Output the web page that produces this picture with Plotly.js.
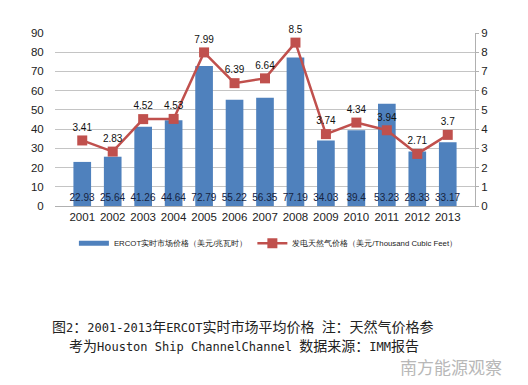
<!DOCTYPE html>
<html>
<head>
<meta charset="utf-8">
<script src="https://cdn.plot.ly/plotly-3.0.1.min.js"></script>
<style>html,body{margin:0;padding:0;background:#fff;}#chart{width:528px;height:385px;}</style>
</head>
<body>
<div id="chart"></div>
<script>
var years = ['2001','2002','2003','2004','2005','2006','2007','2008','2009','2010','2011','2012','2013'];
var ercotPrice = [22.93, 25.64, 41.26, 44.64, 72.79, 55.22, 56.35, 77.19, 34.03, 39.4, 53.23, 28.33, 33.17];
var gasPrice = [3.41, 2.83, 4.52, 4.53, 7.99, 6.39, 6.64, 8.5, 3.74, 4.34, 3.94, 2.71, 3.7];
var barName = 'ERCOT实时市场价格（美元/兆瓦时）';
var lineName = '发电天然气价格（美元/Thousand Cubic Feet）';

var tickFont = {family: 'Liberation Sans, Arial, sans-serif', size: 11.5, color: '#222'};
var barLabelFont = {family: 'Liberation Sans, Arial, sans-serif', size: 10, color: '#16233f'};

var bars = {
  type: 'bar', x: years, y: ercotPrice, name: barName, showlegend: false,
  marker: {color: '#4F81BD'}, width: 0.58,
  text: ercotPrice.map(String), textposition: 'inside', insidetextanchor: 'start',
  constraintext: 'none', cliponaxis: false,
  textfont: barLabelFont, insidetextfont: barLabelFont,
  textangle: 0, hoverinfo: 'skip'
};
var barLegend = {
  type: 'scatter', mode: 'lines', x: [null], y: [null], name: barName,
  line: {color: '#4F81BD', width: 5}, hoverinfo: 'skip'
};
var line = {
  type: 'scatter', mode: 'lines+markers+text', x: years, y: gasPrice, yaxis: 'y2', name: lineName,
  line: {color: '#C0504D', width: 2.5},
  marker: {symbol: 'square', size: 10, color: '#C0504D'},
  text: gasPrice.map(String), textposition: 'top center', cliponaxis: false,
  textfont: {family: 'Liberation Sans, Arial, sans-serif', size: 10, color: '#111'},
  hoverinfo: 'skip'
};

function latin(s){ return '<span style="font-size:12px">' + s + '</span>'; }
var cap1 = '图' + latin('2') + '：' + latin('2001-2013') + '年' + latin('ERCOT') + '实时市场平均价格' + latin(' ') + '注：天然气价格参';
var cap2 = '考为' + latin('Houston Ship ChannelChannel ') + '数据来源：' + latin('IMM') + '报告';
var capFont = {family: 'DejaVu Sans Mono, Noto Sans CJK SC, monospace', size: 14, color: '#222'};

var layout = {
  width: 528, height: 385,
  margin: {l: 55, r: 53, t: 33, b: 179},
  paper_bgcolor: '#fff', plot_bgcolor: '#fff',
  showlegend: true,
  legend: {orientation: 'h', x: 0.045, y: -0.215, xanchor: 'left', yanchor: 'middle',
           font: {family: 'Liberation Sans, Arial, sans-serif', size: 7.8, color: '#222'},
           itemwidth: 30, traceorder: 'normal'},
  xaxis: {type: 'category', tickfont: tickFont, showgrid: false, showline: true, linecolor: '#b0b0b0',
          ticks: '', fixedrange: true},
  yaxis: {range: [0, 90], dtick: 10, tickfont: tickFont, showgrid: true, gridcolor: '#c4c4c4',
          gridwidth: 1, zeroline: false, showline: false, ticks: 'outside', ticklen: 8, tickcolor: 'rgba(0,0,0,0)'},
  yaxis2: {range: [0, 9], dtick: 1, overlaying: 'y', side: 'right', tickfont: tickFont, showgrid: false,
           zeroline: false, showline: true, linecolor: '#b0b0b0', ticks: 'outside', ticklen: 3, tickcolor: '#b0b0b0'},
  annotations: [
    {xref: 'paper', yref: 'paper', x: -0.012, y: -0.70, xanchor: 'left', yanchor: 'middle', showarrow: false,
     text: cap1, font: capFont},
    {xref: 'paper', yref: 'paper', x: 0.029, y: -0.81, xanchor: 'left', yanchor: 'middle', showarrow: false,
     text: cap2, font: capFont},
    {xref: 'paper', yref: 'paper', x: 1.07, y: -0.925, xanchor: 'right', yanchor: 'middle', showarrow: false,
     text: '南方能源观察', font: {family: 'Noto Sans CJK SC, sans-serif', size: 17, color: '#b8b8b8'}}
  ]
};
Plotly.newPlot('chart', [bars, barLegend, line], layout, {displayModeBar: false, staticPlot: true});
</script>
</body>
</html>
